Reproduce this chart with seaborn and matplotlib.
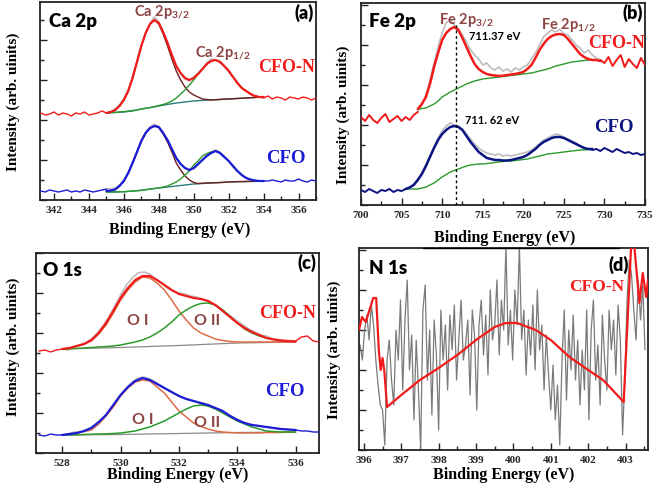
import numpy as np
import seaborn as sns
import matplotlib.pyplot as plt
from matplotlib.ticker import MultipleLocator
from matplotlib.lines import Line2D

sns.set_theme(style="white")
plt.rcParams['font.family'] = ['Liberation Serif', 'DejaVu Serif']
plt.rcParams['font.weight'] = 'bold'

RED = "#f21b1b"
BLUE = "#1c1cd6"
NAVY = "#0b1482"
GREY = "#bdbdbd"
BROWN = "#6e1f22"
GREEN = "#2b9a2b"
TEAL = "#2a7f78"
ORANGE = "#df6a45"
LABEL = "#8f4444"

# ---------------- (a) Ca 2p ----------------
ca_raw_x = np.round(np.arange(341.25, 357.01, 0.25), 2)
ca_n_raw = [87, 85, 86, 88, 85, 87, 86, 84, 87, 86, 88, 85, 86, 87, 89, 87,
            88, 91, 95, 101, 110, 123, 138, 155, 167, 177, 183, 178, 168, 158, 145, 134,
            126, 121, 119, 123, 127, 131, 137, 141, 140, 139, 134, 130, 123, 118, 112, 109,
            106, 104, 103, 102,
            104, 101, 103, 102, 100, 103, 102, 101, 103, 102, 100, 102]
ca_raw = [9, 8, 10, 9, 8, 9, 10, 8, 9, 8, 10, 9, 8, 9, 10, 11,
          11, 12, 15, 20, 27, 37, 48, 60, 68, 73, 76, 73, 67, 60, 51, 42,
          36, 32, 30, 31, 35, 40, 45, 48, 50, 48, 44, 39, 33, 29, 25, 22,
          20, 19, 19, 19,
          19, 20, 19, 18, 20, 19, 19, 21, 19, 18, 20, 19]
ca_fit_x = np.round(np.arange(345.0, 354.01, 0.25), 2)
ca_n_fit = [87, 88, 90, 94, 100, 109, 122, 138, 154, 167, 176, 180, 177, 168, 157, 145,
            134, 127, 122, 120, 122, 126, 131, 136, 139, 140, 138, 134, 129, 123, 117, 112,
            109, 106, 104, 103, 103]
ca_n_p32 = [87, 88, 90, 94, 100, 109, 122, 138, 154, 167, 176, 180, 176, 166, 154, 141,
            129, 120, 113, 108, 105, 103, 101, 100.5, 100, 100.3, 100.6, 100.8, 101, 101.3, 101.5, 101.8,
            102, 102.3, 102.5, 102.8, 103]
ca_n_p12 = [87, 87.3, 87.6, 88, 88.3, 89, 89.5, 90, 91, 91.7, 92.5, 93.3, 94.5, 95.5, 97, 99,
            102, 106, 110, 115, 120, 126, 131, 136, 139, 140, 138, 134, 129, 123, 117, 112,
            109, 106, 104, 103, 103]
ca_n_bg = [87, 87.2, 87.5, 87.8, 88, 88.5, 89, 90, 91, 91.7, 92.4, 93.2, 94, 94.8, 95.6, 96.3,
           97, 97.5, 98, 98.5, 99, 99.3, 99.6, 99.8, 100, 100.3, 100.5, 100.8, 101, 101.3, 101.5, 101.8,
           102, 102.3, 102.5, 102.8, 103]
ca_fit = [9, 9.5, 10.5, 14, 19, 27, 37, 48, 59, 67, 72, 74, 73, 67, 60, 51,
          42, 36, 32, 30, 32, 36, 40, 44, 47, 49, 47, 43, 39, 34, 29, 25,
          22, 20.5, 19.5, 19, 19]
ca_p32 = [9, 9.5, 10.5, 14, 19, 27, 37, 48, 59, 67, 72, 74, 72.5, 66, 58, 48,
          37, 30, 24, 20, 17.5, 16.5, 16.8, 17, 17.2, 17.3, 17.5, 17.7, 18, 18.2, 18.4, 18.5,
          18.6, 18.7, 18.8, 18.9, 19]
ca_p12 = [8, 8, 8.1, 8.2, 8.3, 8.6, 9, 9.3, 9.7, 10.3, 11, 11.5, 12, 13, 14, 16,
          18, 21, 25, 29, 35, 39, 44, 46.5, 48, 49, 47, 43, 39, 34, 29, 25,
          22, 20.5, 19.5, 19, 19]
ca_bg = [8, 8, 8.1, 8.2, 8.3, 8.6, 9, 9.3, 9.7, 10.3, 11, 11.5, 12, 12.5, 13, 13.5,
         14, 14.5, 15, 15.5, 16, 16.2, 16.5, 16.8, 17, 17.2, 17.4, 17.7, 18, 18.1, 18.2, 18.3,
         18.4, 18.5, 18.6, 18.7, 18.8]

# ---------------- (b) Fe 2p ----------------
fe_raw_x = np.round(np.arange(700.0, 735.01, 0.5), 1)
fe_n_raw = [88, 84, 90, 85, 82, 87, 91, 83, 86, 89, 84, 88, 85, 90,
            93,
            100, 110, 125, 142, 158, 172, 182, 186, 180, 176,
            170, 163, 155, 150, 146, 140, 142, 137, 135, 138,
            134, 136, 133, 137, 135, 138, 140, 146, 152, 160,
            168, 172, 175, 173, 176, 171, 170, 165, 160, 157,
            152, 155, 150, 147, 145,
            142, 148, 139, 145, 150, 138, 146, 141, 137, 147, 140]
fe_raw = [15, 13, 16, 14, 12, 15, 14, 16, 13, 15, 14,
          16, 18, 21, 26, 32, 40, 49, 58, 67, 74,
          79, 82, 80, 79, 76, 71, 66, 61, 57, 54,
          52, 51, 50, 51, 49, 50, 49, 50, 51, 52,
          53, 55, 58, 61, 65, 67, 69, 71, 70, 68,
          66, 64, 62, 59, 57, 56, 55,
          56, 54, 57, 55, 53, 56, 54, 52, 53, 51, 52, 50, 51]
fe_n_fit_x = np.round(np.arange(707.0, 729.51, 0.5), 1)
fe_n_fit = [96, 101, 108, 121, 138, 152, 165, 172, 176, 178,
            175, 167, 158, 149, 141, 136, 133, 131, 130, 129.5,
            129, 129.3, 130, 130.5, 131, 132, 133, 136, 140, 147,
            155, 161, 166, 169, 170.5, 171, 170, 166, 161, 156,
            151, 148, 146, 145, 145, 144]
fe_n_bg = [96, 96.5, 97, 99, 101, 104, 108, 110.5, 113, 115,
           117, 119, 121, 122.5, 124, 125, 126, 126.5, 127, 127.5,
           128, 128.5, 129, 129.5, 130, 130.5, 131, 131.5, 132, 133,
           134, 135, 136, 137.5, 139, 140, 141, 142, 143, 143.5,
           144, 144.5, 145, 145, 145, 144]
fe_fit_x = np.round(np.arange(705.5, 728.51, 0.5), 1)
fe_fit = [16, 17.5, 20, 25, 31, 39, 48, 57, 65, 71,
          75, 78, 79, 78, 75, 69, 63, 58, 53, 50,
          47, 46, 45, 45, 44.5, 44.5, 45, 46, 47, 48,
          50, 53, 56, 60, 63, 65, 67, 68, 68, 67,
          65, 63, 61, 59, 57, 56, 56]
fe_bg = [16, 16, 16, 16, 17, 18, 20, 22, 25, 28,
         30.5, 33, 34.5, 36, 37.5, 39, 40, 40.5, 41, 41,
         41.5, 42, 42.5, 43, 43.5, 44, 44, 44.5, 45, 45.5,
         46, 47, 48, 49, 50, 51, 51.5, 52, 52.5, 53,
         53.5, 54, 54.5, 55, 55, 55.5, 55.5]

# ---------------- (c) O 1s ----------------
o_raw_x = np.round(np.arange(527.2, 536.81, 0.2), 1)
o_n_raw = [102, 103, 101, 103, 104, 103, 106, 108, 110, 114,
           120, 127, 136, 147, 158, 168, 175, 180, 181, 179,
           174, 170, 165, 162, 160, 159, 157, 156, 154, 152,
           148, 145, 140, 136, 132, 128, 124, 121, 118, 117,
           114, 113, 112, 111, 112, 116, 117, 112, 111]
o_raw = [18, 17, 19, 18, 18, 19, 21, 21, 23, 26,
         30, 35, 42, 50, 58, 65, 71, 75, 76, 74,
         71, 67, 63, 60, 57, 55, 53, 51, 49, 47,
         45, 43, 40, 37, 34, 31, 29, 28, 27, 26,
         25, 24, 24, 23, 23, 22, 22, 21, 21]
o_fit_x = np.round(np.arange(528.0, 536.01, 0.25), 2)
o_n_fit = [104, 105, 107, 109, 113, 120, 130, 142, 155, 165,
           173, 177, 177, 173, 168, 163, 159, 157, 155, 154,
           152, 148, 142, 136, 130, 125, 121, 118, 115, 113.5,
           112.5, 112, 111.5]
o_n_oi = [104, 105, 107, 109, 112, 119, 128, 140, 153, 163,
          171, 176, 175, 170, 163, 153, 142, 133, 125, 120,
          117, 114, 112.5, 111.5, 111, 111, 111, 111, 111, 111,
          111, 111, 111]
o_n_oii = [104, 104.3, 104.6, 105, 105.5, 106, 106.5, 107, 108, 109.5,
           111, 113, 116, 120, 125, 131, 138, 143, 147, 149.5,
           150, 148, 143, 137, 130, 124, 120, 117, 115, 113.5,
           112.5, 112, 111.5]
o_fit = [18, 19, 20, 22, 25, 31, 38, 48, 58, 66,
         72, 75, 73, 69, 65, 61, 57, 54, 52, 50,
         48, 45, 42, 37, 33, 30, 28, 27, 26, 25,
         24, 23.5, 23]
o_oi = [18, 19, 20, 21.5, 23, 29, 37, 46, 57, 65,
        71, 73, 72, 66, 60, 51, 42, 36, 30, 26.5,
        24, 22, 21, 20.5, 20, 20, 20, 20, 20.5, 20.5,
        20.5, 21, 21]
o_oii = [18, 18, 18.2, 18.5, 18.8, 19, 19.2, 19.5, 20, 21,
         22, 24, 26, 29, 32, 36, 40, 44, 47, 48,
         47, 44, 40, 36, 32, 29, 26, 24, 22, 21.5,
         21, 21, 21]
o_bg_x = [528, 530, 532, 534, 536]
o_n_bg = [104, 105.5, 107.5, 110, 111]
o_bg = [18, 18.5, 19.5, 20.5, 21]

# ---------------- (d) N 1s ----------------
n_raw_x = np.round(np.arange(395.90, 403.53, 0.06), 2)
n_raw = [105, 90, 120, 135, 110, 145, 125, 90, 65, 45,
         40, 5, 90, 110, 70, 45, 120, 90, 150, 60,
         130, 170, 80, 115, 30, 110, 60, 0, 140, 165,
         70, 120, 35, 130, 95, 20, 140, 90, 125, 60,
         135, 100, 145, 70, 110, 150, 90, 105, 130, 55,
         140, 115, 40, 125, 150, 95, 135, 75, 160, 110,
         125, 170, 95, 150, 120, 205, 105, 140, 90, 160,
         125, 205, 110, 140, 75, 130, 95, 145, 80, 160,
         100, 125, 60, 115, 75, 40, 85, 30, 65, 5,
         90, 140, 50, 120, 80, 135, 70, 110, 45, 100,
         60, 140, 30, 120, 150, 70, 105, 45, 135, 90,
         60, 140, 100, 130, 75, 145, 110, 15, 70, 150,
         190, 175, 140, 110, 170, 130, 165, 100]
n_fit_x = [395.87, 395.95, 396.05, 396.15, 396.25, 396.33, 396.40, 396.45, 396.50, 396.55,
           396.62, 397.00, 397.50, 398.00, 398.50, 399.00, 399.50, 399.80, 400.10, 400.60,
           401.00, 401.50, 402.00, 402.40, 402.95, 403.15, 403.22, 403.37, 403.46, 403.55, 403.60]
n_fit = [120, 133, 128, 140, 152, 152, 100, 80, 92, 78,
         43, 55, 70, 82, 95, 110, 123, 127, 127, 120,
         110, 93, 80, 70, 48, 205, 210, 147, 177, 153, 170]

W, H = 656, 493
fig = plt.figure(figsize=(W / 100, H / 100), dpi=100)
fig.patch.set_facecolor("white")


def axes_px(l, t, r, b):
    return fig.add_axes([l / W, 1 - b / H, (r - l) / W, (b - t) / H])


def ptext(px, py, s, **kw):
    return fig.text(px / W, 1 - py / H, s, **kw)


def line(ax, x, y, color, lw, z):
    sns.lineplot(x=np.asarray(x), y=np.asarray(y), ax=ax, color=color, lw=lw,
                 sort=False, estimator=None, legend=False, zorder=z)


def raw(ax, x, y, lo, hi, color, lw=1.0):
    x = np.asarray(x)
    y = np.asarray(y, dtype=float)
    mid = (x >= lo) & (x <= hi)
    line(ax, x[mid], y[mid], GREY, 1.2, 2)
    line(ax, x[x <= lo], y[x <= lo], color, lw, 4)
    line(ax, x[x >= hi], y[x >= hi], color, lw, 4)


def style(ax, xlim, ylim, xmaj, xmin):
    ax.set_xlim(*xlim)
    ax.set_ylim(*ylim)
    ax.xaxis.set_major_locator(MultipleLocator(xmaj))
    ax.xaxis.set_minor_locator(MultipleLocator(xmin))
    ax.yaxis.set_major_locator(MultipleLocator(40))
    ax.yaxis.set_minor_locator(MultipleLocator(20))
    ax.set_yticklabels([])
    ax.tick_params(which="both", direction="in", bottom=True, left=True, top=False, right=False,
                   color="#222222", width=1.0)
    ax.tick_params(which="major", length=5, labelsize=8, pad=4)
    ax.tick_params(which="minor", length=3)
    for lab in ax.get_xticklabels():
        lab.set_fontweight("bold")
    for sp in ax.spines.values():
        sp.set_color("#222222")
        sp.set_linewidth(1.3)
    ax.set_xlabel("")
    ax.set_ylabel("")
    ax.set_facecolor("white")


SANS = ["Lato", "DejaVu Sans"]

# ---- (a)
ax = axes_px(40, 2, 316, 200)
raw(ax, ca_raw_x, ca_n_raw, 345.0, 354.0, RED)
raw(ax, ca_raw_x, ca_raw, 345.0, 354.0, BLUE)
for bg, c1, c2, fit, col in [(ca_n_bg, ca_n_p32, ca_n_p12, ca_n_fit, RED),
                             (ca_bg, ca_p32, ca_p12, ca_fit, BLUE)]:
    line(ax, ca_fit_x, bg, TEAL, 1.0, 3)
    line(ax, ca_fit_x, c1, BROWN, 1.0, 3)
    line(ax, ca_fit_x, c2, GREEN, 1.0, 3)
    line(ax, ca_fit_x, fit, col, 1.6, 5)
style(ax, (341.2, 357.0), (0, 198), 2, 1)

# ---- (b)
ax = axes_px(361, 3, 645, 205)
raw(ax, fe_raw_x, fe_n_raw, 707.0, 729.5, RED, 1.4)
raw(ax, fe_raw_x, fe_raw, 705.5, 728.5, NAVY, 1.4)
line(ax, fe_n_fit_x, fe_n_bg, GREEN, 1.0, 3)
line(ax, fe_n_fit_x, fe_n_fit, RED, 1.8, 5)
line(ax, fe_fit_x, fe_bg, GREEN, 1.0, 3)
line(ax, fe_fit_x, fe_fit, NAVY, 1.8, 5)
ax.axvline(711.7, ymin=0, ymax=180 / 202, color="black", lw=1.0, ls=(0, (2, 2)), zorder=6)
style(ax, (700, 735), (0, 202), 5, 2.5)
ax.text(588 / W, 1 - 43 / H, "CFO-N", transform=fig.transFigure, color=RED, fontsize=13,
        fontweight="bold", ha="left", va="center", clip_on=True)

# ---- (c)
ax = axes_px(36, 253, 319, 453)
raw(ax, o_raw_x, o_n_raw, 528.0, 536.0, RED)
raw(ax, o_raw_x, o_raw, 528.0, 536.0, BLUE)
for bg, oi, oii, fit, col in [(o_n_bg, o_n_oi, o_n_oii, o_n_fit, RED),
                              (o_bg, o_oi, o_oii, o_fit, BLUE)]:
    line(ax, o_bg_x, bg, "#8a8a8a", 0.9, 3)
    line(ax, o_fit_x, oi, ORANGE, 1.1, 3)
    line(ax, o_fit_x, oii, GREEN, 1.1, 3)
    line(ax, o_fit_x, fit, col, 1.6, 5)
style(ax, (527.1, 536.8), (0, 200), 2, 1)

# ---- (d)
ax = axes_px(359, 248, 648, 450)
line(ax, n_raw_x, n_raw, "#7a7a7a", 0.9, 2)
line(ax, n_fit_x, n_fit, RED, 1.6, 5)
style(ax, (395.87, 403.6), (0, 202), 1, 0.5)

# ---- texts
sans_kw = dict(family=SANS)
for px, py, s in [(49, 21, "Ca 2p"), (369, 22, "Fe 2p"), (43, 270, "O 1s"), (369, 268, "N 1s")]:
    ptext(px, py, s, fontsize=13.5, ha="left", va="center", color="black",
          fontweight="heavy", **sans_kw)
for px, py, s in [(314, 13, "(a)"), (643, 13, "(b)"), (316, 263, "(c)"), (629, 265, "(d)")]:
    ptext(px, py, s, fontsize=13, ha="right", va="center", color="black",
          fontweight="heavy", **sans_kw)

for px, py, s in [(162, 12, r"Ca 2p$_\mathregular{3/2}$"), (223, 53, r"Ca 2p$_\mathregular{1/2}$"),
                  (466, 20, r"Fe 2p$_\mathregular{3/2}$"), (568, 25, r"Fe 2p$_\mathregular{1/2}$")]:
    ptext(px, py, s, fontsize=10.5, ha="center", va="center", color=LABEL,
          fontweight="bold", **sans_kw)
for px, py, s in [(138, 321, "O I"), (207, 321, "O II"), (143, 420, "O I"), (207, 423, "O II")]:
    ptext(px, py, s, fontsize=11.5, ha="center", va="center", color=LABEL,
          fontweight="bold", **sans_kw)

ptext(469, 36, "711.37 eV", fontsize=8, ha="left", va="center", color="black",
      fontweight="bold", **sans_kw)
ptext(465, 121, "711. 62 eV", fontsize=8, ha="left", va="center", color="black",
      fontweight="bold", **sans_kw)

for px, py, s, c in [(287, 67, "CFO-N", RED), (286, 158, "CFO", BLUE),
                     (288, 313, "CFO-N", RED), (285, 392, "CFO", BLUE),
                     (614, 128, "CFO", NAVY)]:
    ptext(px, py, s, fontsize=13.5 if s == "CFO" else 13, ha="center", va="center",
          color=c, fontweight="bold")
ptext(569, 287, "CFO-N", fontsize=12.5, ha="left", va="center", color=RED, fontweight="bold")

for px, py in [(180, 230), (505, 238), (178, 475), (504, 475)]:
    ptext(px, py, "Binding Energy (eV)", fontsize=11.5, ha="center", va="center",
          fontweight="bold", color="black")
for px, py in [(13, 102), (343, 115), (13, 347), (334, 350)]:
    ptext(px, py, "Intensity (arb. uinits)", fontsize=11, ha="center", va="center",
          rotation=90, fontweight="bold", color="black")

fig.add_artist(Line2D([423 / W, 619 / W], [1 - 248 / H, 1 - 248 / H], color="black", lw=1.0))

fig.savefig("out.png", dpi=100, facecolor="white")
